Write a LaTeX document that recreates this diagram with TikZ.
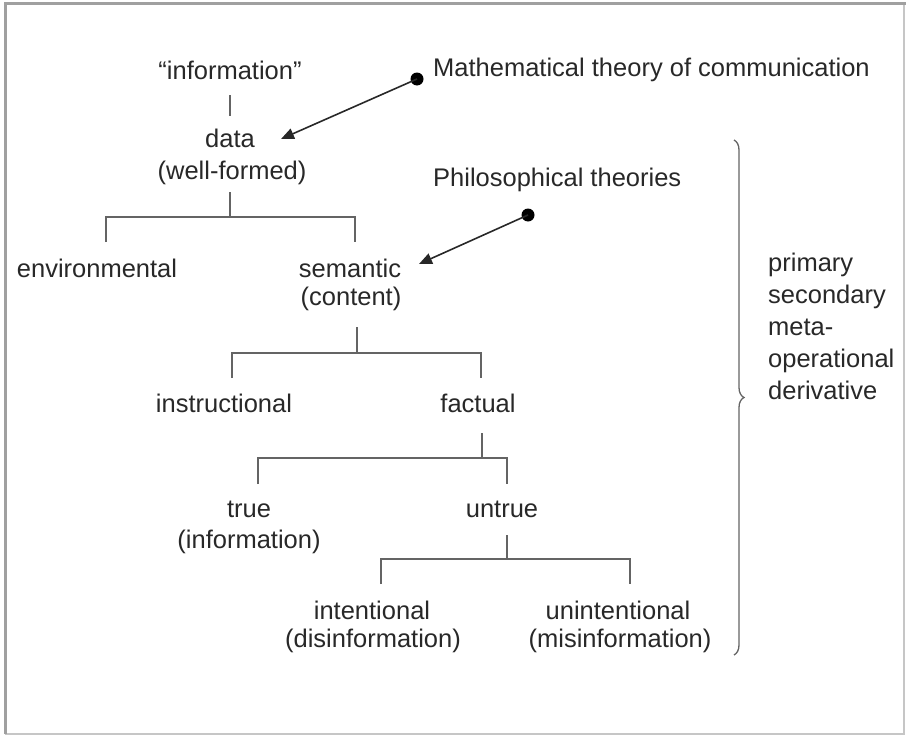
\documentclass[tikz,border=0pt]{standalone}
\usepackage{fontspec}
\setmainfont{Liberation Sans}
\usetikzlibrary{arrows.meta,decorations.pathreplacing}
\definecolor{txt}{RGB}{40,40,40}
\definecolor{ln}{RGB}{100,100,100}
\definecolor{frm}{RGB}{160,160,160}
\begin{document}
\begin{tikzpicture}[x=1pt,y=-1pt,
  lbl/.style={inner sep=0pt,align=center,text=txt,font=\fontsize{25.5}{32}\selectfont},
  conn/.style={draw=ln,line width=1.6pt},
  arr/.style={draw=txt,line width=1.6pt,-{Triangle[length=13pt,width=11pt]}},
  dotnode/.style={circle,fill=black,inner sep=0pt,minimum size=13pt}]
\useasboundingbox (0,0) rectangle (906,736);
\draw[frm!60,line width=2pt] (904,3) -- (904,734) -- (5,734);
\draw[frm,line width=3pt] (5,734) -- (5,3) -- (906,3);
% labels
\node[lbl] (info) at (230,70) {“information”};
\node[lbl] (data) at (230,138) {data};
\node[lbl] (wf) at (232,173) {(well-formed)};
\node[lbl] (env) at (97,268) {environmental};
\node[lbl] (sem) at (350,268) {semantic};
\node[lbl] (cont) at (351,299) {(content)};
\node[lbl] (instr) at (224,403) {instructional};
\node[lbl] (fact) at (478,403) {factual};
\node[lbl] (tru) at (249,509) {true};
\node[lbl] (tinfo) at (249,542) {(information)};
\node[lbl] (untru) at (502,509) {untrue};
\node[lbl] (intent) at (372,610) {intentional};
\node[lbl] (disinfo) at (373,641) {(disinformation)};
\node[lbl] (unint) at (618,610) {unintentional};
\node[lbl] (misinfo) at (620,641) {(misinformation)};
\node[lbl,anchor=west] (math) at (433,70) {Mathematical theory of communication};
\node[lbl,anchor=west] (phil) at (433,180) {Philosophical theories};
\node[lbl,anchor=north west,align=left] (kinds) at (768,253) {primary\\secondary\\meta-\\operational\\derivative};
% tree connectors
\coordinate (s0a) at (230,95); \coordinate (s0b) at (230,116);
\draw[conn] (s0a) -- (s0b);
\coordinate (s1) at (230,192); \coordinate (m1) at (230,217);
\coordinate (l1) at (106,242); \coordinate (r1) at (355,242);
\draw[conn] (s1) -- (m1);
\draw[conn] (l1) -- (l1 |- m1) -- (r1 |- m1) -- (r1);
\coordinate (s2) at (357,327); \coordinate (m2) at (357,353);
\coordinate (l2) at (232,378); \coordinate (r2) at (481,378);
\draw[conn] (s2) -- (m2);
\draw[conn] (l2) -- (l2 |- m2) -- (r2 |- m2) -- (r2);
\coordinate (s3) at (482,433); \coordinate (m3) at (482,458);
\coordinate (l3) at (258,484); \coordinate (r3) at (507,484);
\draw[conn] (s3) -- (m3);
\draw[conn] (l3) -- (l3 |- m3) -- (r3 |- m3) -- (r3);
\coordinate (s4) at (507,535); \coordinate (m4) at (507,559);
\coordinate (l4) at (381,584); \coordinate (r4) at (630,584);
\draw[conn] (s4) -- (m4);
\draw[conn] (l4) -- (l4 |- m4) -- (r4 |- m4) -- (r4);
% arrows
\node[dotnode] (d1) at (417,79) {};
\coordinate (a1) at (281,139);
\draw[arr] (d1.center) -- (a1);
\node[dotnode] (d2) at (528,215) {};
\coordinate (a2) at (419,264);
\draw[arr] (d2.center) -- (a2);
% brace
\draw[ln,line width=1.3pt,decorate,decoration={brace,amplitude=10pt}] (734,140) -- (734,655);
\end{tikzpicture}
\end{document}
